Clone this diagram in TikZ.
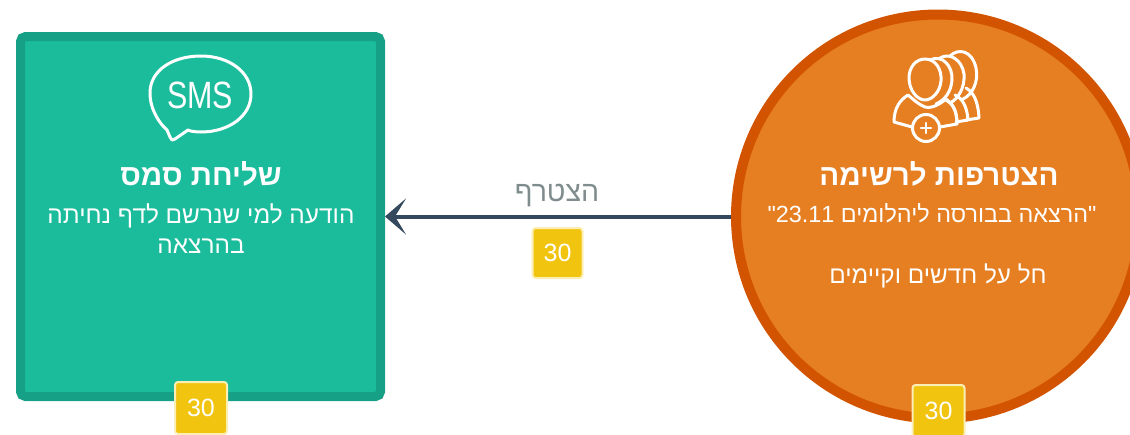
\documentclass[tikz,border=0pt]{standalone}
\usepackage{fontspec}
\setmainfont[Script=Hebrew]{Liberation Sans}
\newfontfamily\latinf{Liberation Sans}
\TeXXeTstate=1
\usetikzlibrary{arrows.meta,shapes.geometric}
\definecolor{tealfill}{HTML}{1ABC9C}
\definecolor{tealedge}{HTML}{16A085}
\definecolor{orangefill}{HTML}{E67E22}
\definecolor{orangeedge}{HTML}{D35400}
\definecolor{linkblue}{HTML}{34495E}
\definecolor{badgey}{HTML}{F1C40F}
\definecolor{badgeedge}{HTML}{FBEFB5}
\definecolor{labelgrey}{HTML}{7F8C8D}
\tikzset{
  boxnode/.style={draw=tealedge,fill=tealfill,line width=9pt,rounded corners=5pt,minimum width=360pt,minimum height=360pt},
  roundnode/.style={circle,draw=orangeedge,fill=orangefill,line width=10pt,minimum size=404pt,inner sep=0pt},
  titletext/.style={text=white,font=\fontsize{29.5}{32}\selectfont\bfseries,align=center,inner sep=0pt},
  bodytext/.style={text=white,font=\fontsize{#1}{30}\selectfont,align=center,inner sep=0pt},
  badge/.style={fill=badgey,draw=badgeedge,line width=2pt,rounded corners=3pt,minimum size=#1,inner sep=0pt,text=white,font=\latinf\fontsize{25}{28}\selectfont},
  linktext/.style={text=labelgrey,font=\fontsize{28.5}{30}\selectfont,inner sep=0pt},
  iconline/.style={draw=white,line width=3pt,line join=round,line cap=round},
  flow/.style={draw=linkblue,line width=4pt,-{Stealth[length=21pt,width=36pt,inset=11pt]}}
}
\begin{document}
\begin{tikzpicture}[x=1pt,y=-1pt]
\clip (0,0) rectangle (1130,434);
\node[boxnode] (sms) at (200.5,216.5) {};
\node[roundnode] (join) at (938,216.5) {};
\draw[flow] (join.west) -- (sms.east);
% SMS bubble icon
\draw[iconline] (167,130) .. controls (160,124) and (150,110) .. (150,93)
  .. controls (150,70) and (173,56) .. (201,56)
  .. controls (229,56) and (251,72) .. (251,94)
  .. controls (251,116) and (229,132) .. (201,132)
  .. controls (194,132) and (190,131) .. (188,130)
  -- (175,139) -- (172,140) -- (170,137) -- cycle;
\node[text=white,inner sep=0pt,xscale=0.8,font=\latinf\fontsize{38}{40}\selectfont] (smsword) at (200,95) {SMS};
% People icon
\draw[iconline,fill=orangefill] (950,56) .. controls (958,48) and (972,50) .. (976,68) .. controls (979,82) and (972,95) .. (963,99);
\draw[iconline,fill=orangefill] (940,58) .. controls (950,52) and (962,60) .. (964,74) .. controls (965,88) and (958,99) .. (950,103);
\draw[iconline,fill=orangefill] (930,60) .. controls (942,54) and (953,66) .. (952,80) .. controls (951,92) and (945,100) .. (936,104);
\draw[iconline,fill=orangefill] (925,59) .. controls (936,59) and (942,70) .. (941,81) .. controls (940,92) and (932,100) .. (925,100) .. controls (917,100) and (909,90) .. (909,78) .. controls (909,67) and (916,59) .. (925,59) -- cycle;
\draw[iconline] (966,88) .. controls (973,92) and (978,100) .. (979,118) -- (966,120);
\draw[iconline] (955,95) .. controls (962,98) and (967,106) .. (968,120) -- (956,122);
\draw[iconline] (946,100) .. controls (952,103) and (957,110) .. (957,124) -- (940,127);
\draw[iconline] (908,95) .. controls (912,98) and (916,103) .. (925,107) .. controls (933,109) and (941,103) .. (946,99) .. controls (954,105) and (957,112) .. (957,124);
\draw[iconline] (908,95) .. controls (900,100) and (894,108) .. (894,122) -- (912,127);
\node[circle,draw=white,fill=orangefill,line width=3pt,minimum size=27pt,inner sep=0pt] (plus) at (926,128) {};
\draw[draw=white,line width=2.4pt,line cap=round] ([xshift=-5pt]plus.center) -- ([xshift=5pt]plus.center);
\draw[draw=white,line width=2.4pt,line cap=round] ([yshift=-5pt]plus.center) -- ([yshift=5pt]plus.center);
% Texts
\node[titletext] (smstitle) at (201,174) {\beginR שליחת סמס\endR};
\node[bodytext=24.4] (smsbody) at (201,229) {\beginR הודעה למי שנרשם לדף נחיתה\endR\\\beginR בהרצאה\endR};
\node[titletext] (jointitle) at (939,174) {\beginR הצטרפות לרשימה\endR};
\node[bodytext=23.4] (joinbody) at (932,213) {\beginR {\latinf"}הרצאה בבורסה ליהלומים \beginL 23.11\endL{\latinf"}\endR};
\node[bodytext=24.3] (joinnote) at (938,276) {\beginR חל על חדשים וקיימים\endR};
\node[linktext] (flowlabel) at (557,195) {\beginR הצטרף\endR};
% Badges
\node[badge=50pt] (b1) at (557.5,253) {30};
\node[badge=52pt] (b2) at (201,408) {30};
\node[badge=52pt] (b3) at (938.5,411) {30};
\end{tikzpicture}
\end{document}
